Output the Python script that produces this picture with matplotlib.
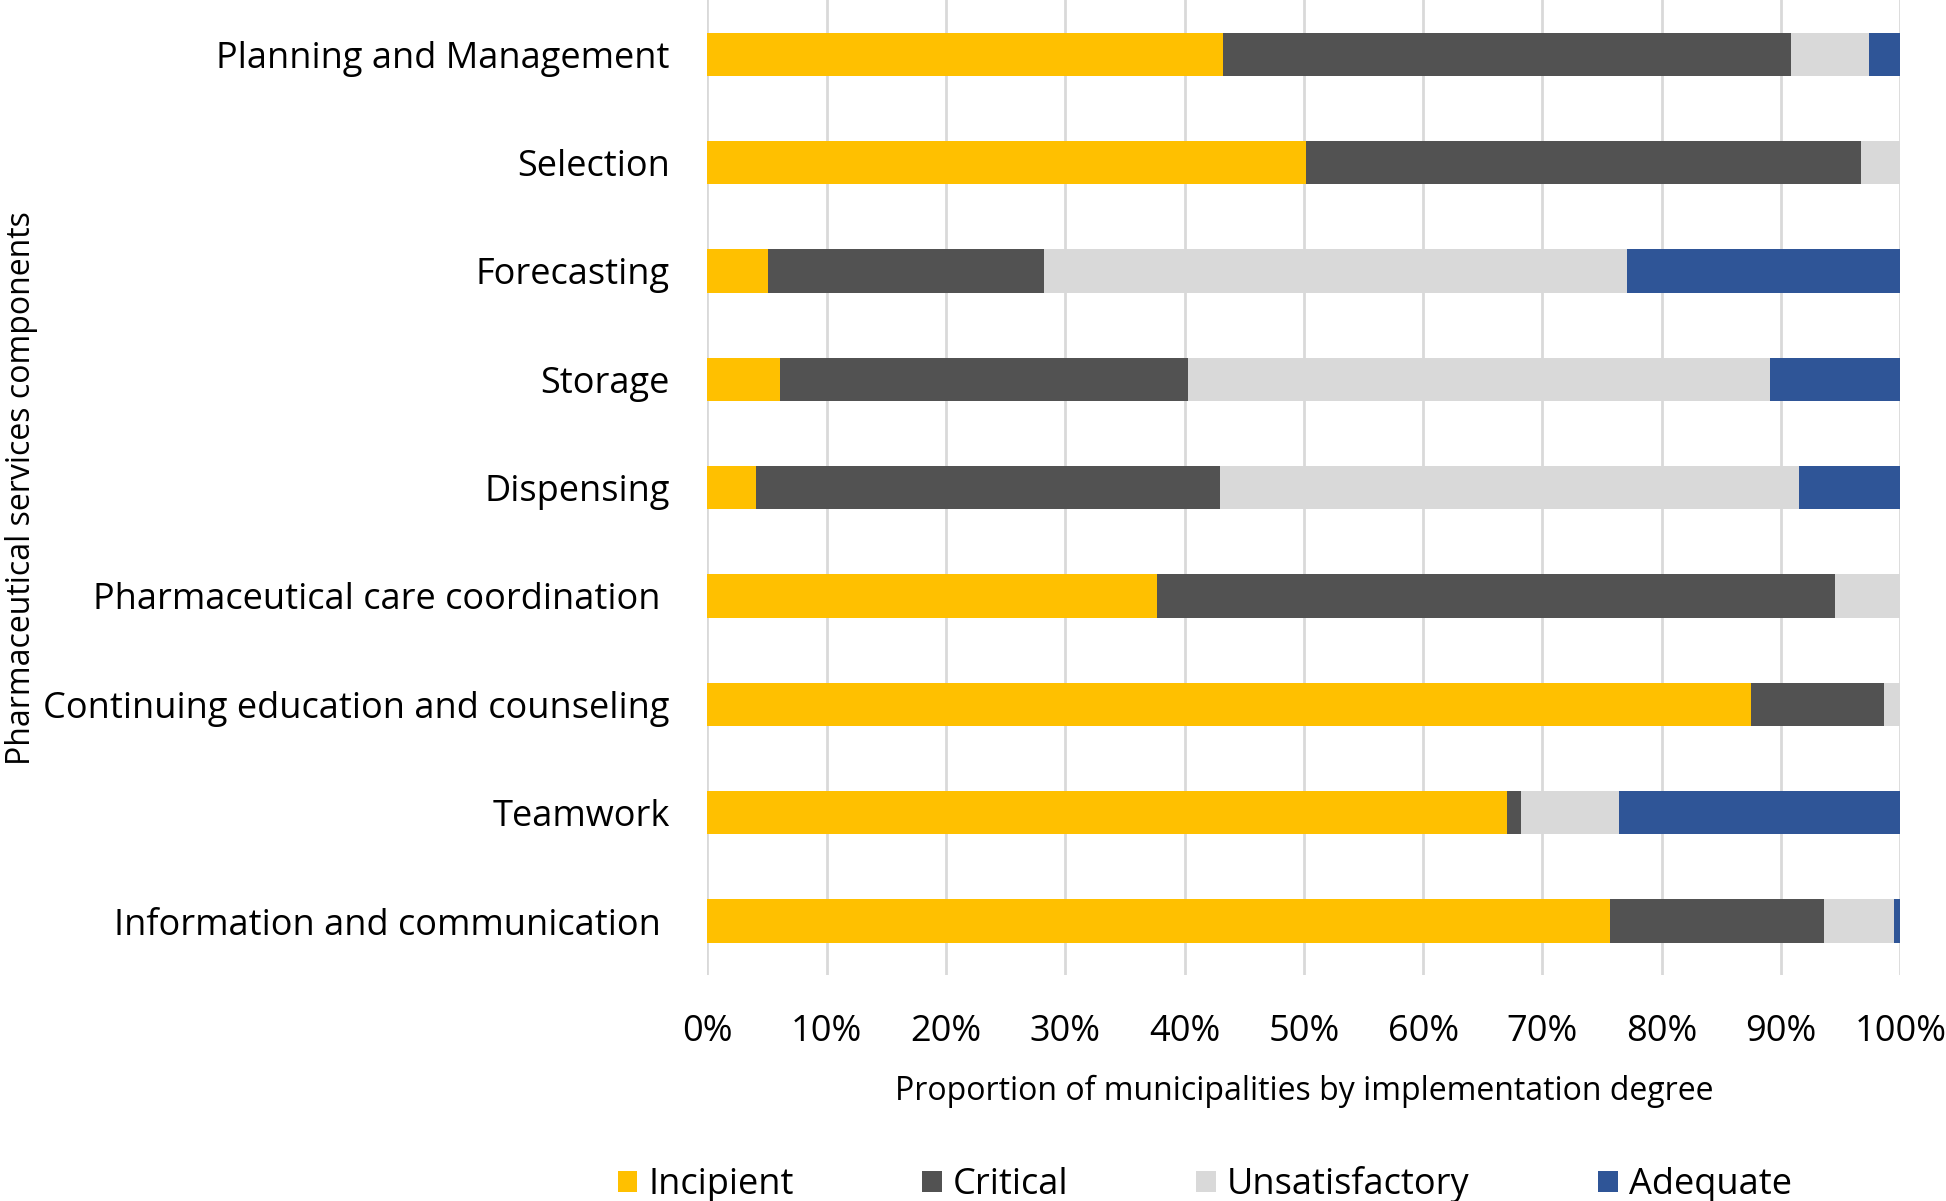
import numpy as np
import matplotlib.pyplot as plt
from matplotlib.ticker import PercentFormatter

plt.rcParams['font.family'] = ['Open Sans', 'DejaVu Sans']

components = ["Planning and Management", "Selection", "Forecasting", "Storage",
              "Dispensing", "Pharmaceutical care coordination ",
              "Continuing education and counseling", "Teamwork",
              "Information and communication "]

# percentages
incipient = [43.2, 50.2, 5.1, 6.1, 4.1, 37.7, 87.5, 67.0, 75.7]
critical = [47.6, 46.5, 23.1, 34.2, 38.9, 56.8, 11.1, 1.2, 17.9]
unsatisfactory = [6.6, 3.3, 48.9, 48.8, 48.5, 5.5, 1.4, 8.2, 5.9]
adequate = [2.6, 0.0, 22.9, 10.9, 8.5, 0.0, 0.0, 23.6, 0.5]

series = [("Incipient", incipient, "#FFC000"),
          ("Critical", critical, "#525252"),
          ("Unsatisfactory", unsatisfactory, "#D9D9D9"),
          ("Adequate", adequate, "#2F5597")]

fig = plt.figure(figsize=(19.46, 12.01), dpi=100)
ax = fig.add_axes([0.3635, 0.188, 0.613, 0.812])

y = np.arange(len(components))
left = np.zeros(len(components))
for name, vals, col in series:
    vals = np.array(vals)
    ax.barh(y, vals, left=left, height=0.4, color=col, label=name, zorder=3)
    left += vals

ax.set_xlim(0, 100)
ax.set_ylim(len(components) - 0.5, -0.5)
ax.set_yticks(y)
ax.set_yticklabels(components, fontsize=26)
ax.set_xticks(np.arange(0, 101, 10))
ax.xaxis.set_major_formatter(PercentFormatter(decimals=0))
ax.tick_params(axis='x', labelsize=26, length=0, pad=28)
ax.tick_params(axis='y', length=0, pad=27)
ax.grid(axis='x', color='#D9D9D9', linewidth=2, zorder=0)
for s in ax.spines.values():
    s.set_visible(False)

ax.set_xlabel("Proportion of municipalities by implementation degree", fontsize=23, labelpad=18)
fig.text(0.011, 0.594, "Pharmaceutical services components", rotation=90,
         fontsize=23, ha='center', va='center')

fig.legend(loc='lower center', ncol=4, frameon=False, fontsize=26,
           handlelength=0.55, handleheight=0.55, handletextpad=0.3,
           columnspacing=3.55, bbox_to_anchor=(0.619, -0.029))

fig.savefig("out.png", dpi=100)
